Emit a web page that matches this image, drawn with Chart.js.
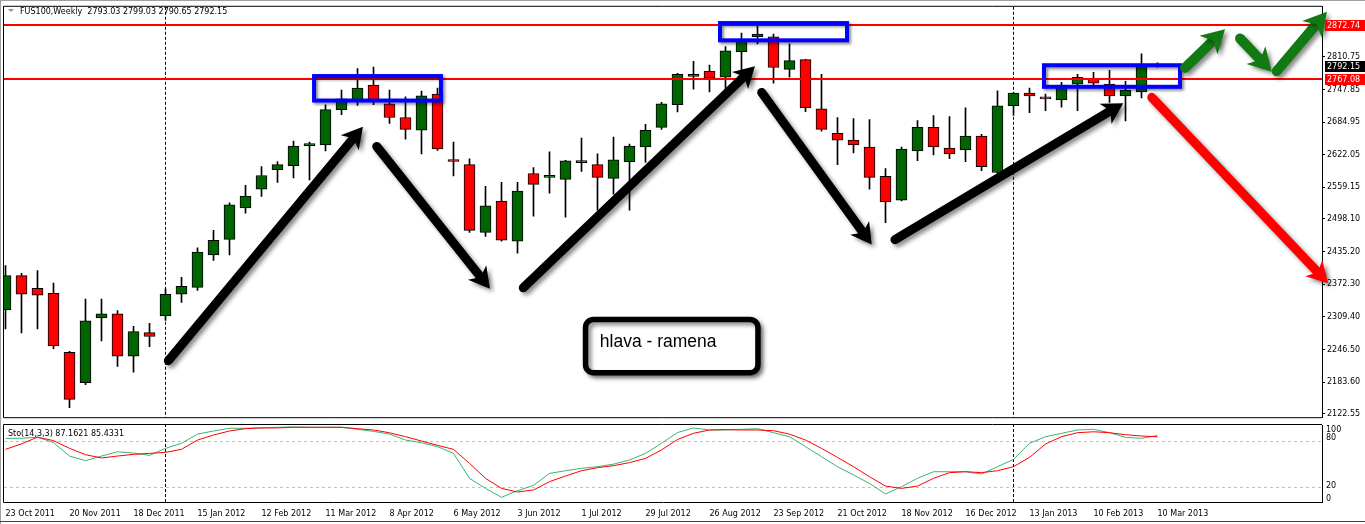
<!DOCTYPE html>
<html>
<head>
<meta charset="utf-8">
<script src="https://cdn.jsdelivr.net/npm/chart.js@4.4.1/dist/chart.umd.min.js"></script>
<style>
  html, body { margin: 0; padding: 0; background: #fff; }
  #wrap { position: relative; width: 1365px; height: 524px; overflow: hidden; background: #fff; }
  #main { position: absolute; left: 0; top: 0; }
  #sto { position: absolute; left: 0; top: 424px; }
  .edge { position: absolute; background: #a0a0a0; }
</style>
</head>
<body>
<div id="wrap">
  <canvas id="main" width="1365" height="424"></canvas>
  <canvas id="sto" width="1365" height="100"></canvas>
  <div class="edge" style="left:0;top:0;width:1365px;height:1px"></div>
  <div class="edge" style="left:0;top:0;width:1px;height:524px"></div>
  <div class="edge" style="left:0;top:521px;width:1365px;height:1px;background:#404040"></div>
</div>
<script>
// ============================================================
// FUS100 weekly candles + Stochastic(14,3,3), MT4 style
// ============================================================

const SYMBOL_TITLE = 'FUS100,Weekly  2793.03 2799.03 2790.65 2792.15';
const STO_TITLE = 'Sto(14,3,3) 87.1621 85.4331';

// one label every 4 weekly bars, bar 0 = 23 Oct 2011
const dateTicks = ['23 Oct 2011', '20 Nov 2011', '18 Dec 2011', '15 Jan 2012', '12 Feb 2012',
  '11 Mar 2012', '8 Apr 2012', '6 May 2012', '3 Jun 2012', '1 Jul 2012', '29 Jul 2012',
  '26 Aug 2012', '23 Sep 2012', '21 Oct 2012', '18 Nov 2012', '16 Dec 2012', '13 Jan 2013',
  '10 Feb 2013', '10 Mar 2013'];

const priceTicks = [2810.75, 2747.85, 2684.95, 2622.05, 2559.15, 2498.10, 2435.20,
  2372.30, 2309.40, 2246.50, 2183.60, 2122.55];

const stoLevels = [100, 80, 20, 0];

const opens = [2322.6, 2388.9, 2364.3, 2354.8, 2241.2, 2182.6, 2307.5, 2315.1, 2233.7, 2279.1,
  2311.3, 2352.9, 2366.2, 2428.6, 2458.9, 2519.5, 2555.5, 2593.3, 2600.9, 2639.6,
  2640.7, 2708.8, 2727.7, 2756.1, 2720.2, 2693.7, 2669.1, 2739.1, 2609.6, 2602.8,
  2472.2, 2532.8, 2455.1, 2585.8, 2578.2, 2574.4, 2610.4, 2602.8, 2576.3, 2608.5,
  2636.9, 2674.7, 2718.3, 2773.2, 2782.6, 2771.3, 2820.5, 2849.5, 2849.5, 2786.4,
  2805.3, 2710.7, 2663.4, 2650.1, 2636.9, 2580.1, 2534.6, 2629.3, 2674.7, 2635.0,
  2631.2, 2657.7, 2587.7, 2716.4, 2741.0, 2733.4, 2727.7, 2758.0, 2769.4, 2758.0,
  2735.3, 2742.9, 2793.03];
const highs = [2408.4, 2393.2, 2398.4, 2374.3, 2243.1, 2343.5, 2343.5, 2321.3, 2291.0, 2296.7,
  2363.5, 2385.7, 2442.5, 2476.0, 2529.0, 2563.0, 2599.0, 2609.0, 2648.2, 2646.3,
  2718.3, 2746.7, 2788.3, 2790.8, 2746.7, 2733.4, 2744.8, 2750.5, 2646.3, 2614.2,
  2561.2, 2568.7, 2568.7, 2597.1, 2627.4, 2611.0, 2653.9, 2623.6, 2655.8, 2642.6,
  2680.4, 2723.2, 2778.8, 2802.1, 2794.6, 2830.5, 2856.5, 2871.6, 2854.6, 2835.6,
  2806.0, 2777.0, 2693.7, 2691.8, 2689.9, 2595.2, 2636.9, 2688.0, 2697.4, 2695.6,
  2712.6, 2661.5, 2745.3, 2742.0, 2750.5, 2739.1, 2761.8, 2777.0, 2780.7, 2784.5,
  2763.7, 2816.7, 2799.03];
const lows = [2285.9, 2278.3, 2285.9, 2248.1, 2134.5, 2178.8, 2263.2, 2214.0, 2202.6, 2251.8,
  2302.4, 2337.0, 2360.5, 2418.4, 2428.6, 2509.3, 2541.5, 2568.7, 2577.4, 2573.6,
  2629.3, 2699.3, 2716.9, 2718.3, 2682.3, 2652.0, 2623.6, 2630.4, 2581.2, 2472.2,
  2464.6, 2455.1, 2432.4, 2503.6, 2547.9, 2501.7, 2589.6, 2515.0, 2546.0, 2515.0,
  2607.2, 2670.9, 2704.3, 2748.6, 2742.9, 2748.6, 2773.2, 2835.6, 2759.9, 2771.3,
  2705.0, 2667.2, 2602.8, 2625.5, 2555.5, 2491.1, 2533.0, 2610.4, 2621.7, 2614.2,
  2608.5, 2591.4, 2581.2, 2698.0, 2703.1, 2706.9, 2713.7, 2706.9, 2756.1, 2722.6,
  2687.2, 2731.5, 2790.65];
const closes = [2388.9, 2352.9, 2351.0, 2253.2, 2150.4, 2301.8, 2315.1, 2233.7, 2281.0, 2271.5,
  2352.9, 2368.1, 2434.3, 2457.0, 2525.2, 2542.2, 2582.0, 2602.8, 2638.8, 2640.7,
  2708.8, 2729.6, 2750.5, 2727.7, 2693.7, 2670.9, 2735.3, 2633.1, 2609.0, 2476.0,
  2523.3, 2457.0, 2551.7, 2564.9, 2578.8, 2610.4, 2606.6, 2578.2, 2612.3, 2638.8,
  2669.1, 2720.2, 2777.0, 2777.0, 2769.4, 2822.4, 2843.2, 2854.6, 2790.2, 2803.5,
  2712.6, 2670.9, 2650.1, 2640.7, 2578.2, 2530.9, 2633.1, 2674.7, 2636.9, 2623.6,
  2657.7, 2599.0, 2716.4, 2741.0, 2735.3, 2729.6, 2756.1, 2771.3, 2759.9, 2735.3,
  2746.7, 2793.0, 2792.15];

// %K main line (green) and %D signal (red)
const stochK = [83.5, 83.5, 85, 78, 60.5, 54.5, 60.5, 66, 64.4, 61.4,
  70.5, 77, 89, 93, 96.5, 96.5, 97, 97.8, 98.3, 97.8,
  97.8, 97.8, 95.2, 92.5, 89, 81.3, 77.8, 72.7, 64, 31.6,
  18.6, 7, 15.6, 22.5, 38, 41.5, 44.6, 46.7, 50, 55.4,
  64, 77, 91, 96.9, 94.3, 94.3, 95.2, 96, 90.8, 85.6,
  72.7, 59.7, 46.7, 36, 25, 11.3, 20.8, 31.6, 40.2, 40.2,
  40.2, 37.2, 46.7, 56.2, 77, 85.6, 90, 94.3, 95.2, 90.8,
  84.8, 83.5, 87.16];
const stochD = [69.2, 76.3, 85, 80.5, 70.5, 62.3, 58, 60.5, 62.7, 64,
  65.3, 69.2, 81.3, 87.8, 93, 96, 97, 97, 97.8, 97.8,
  97.8, 97.8, 96, 94.3, 90.7, 85.6, 80, 74.4, 69.2, 51,
  31.6, 18.6, 13.9, 16.5, 27.3, 34.6, 41.5, 45.4, 48, 52,
  57.5, 68.4, 82, 90, 94.3, 94.8, 94.3, 94.3, 93.4, 89,
  81.3, 70.5, 58.8, 46.7, 33.7, 21.6, 18.6, 21.6, 31.6, 39,
  40.2, 39, 41.5, 46.7, 58.8, 76.1, 85.6, 90.8, 92, 90.8,
  88.2, 86.5, 85.43];

const hLevels = [2872.74, 2767.08];
const separators = [10, 63];   // first bar of 2012 and of 2013

// drawn objects, in (bar index, price) units
const blueBoxes = [
  { x1: 19.16, x2: 27.34, top: 2777.5, bottom: 2722.6 },
  { x1: 44.53, x2: 52.72, top: 2879.7, bottom: 2838.7 },
  { x1: 64.78, x2: 73.53, top: 2798.4, bottom: 2749.1 }
];
const arrows = [
  { from: [10.18, 2224.8], to: [22.34, 2675.9], color: '#000000', w: 9 },
  { from: [23.20, 2638.0], to: [30.28, 2363.5], color: '#000000', w: 9 },
  { from: [32.36, 2365.4], to: [46.84, 2792.7], color: '#000000', w: 9 },
  { from: [47.26, 2742.1], to: [54.14, 2448.7], color: '#000000', w: 9 },
  { from: [55.59, 2458.2], to: [69.86, 2721.3], color: '#000000', w: 9 },
  { from: [71.64, 2732.7], to: [82.66, 2374.3], color: '#ff0000', w: 9 },
  { from: [73.72, 2789.4], to: [76.22, 2864.0], color: '#127a12', w: 10 },
  { from: [77.16, 2846.2], to: [79.14, 2781.9], color: '#127a12', w: 10 },
  { from: [79.45, 2783.2], to: [82.59, 2897.7], color: '#127a12', w: 10 }
];
const noteBox = { x1: 36.08, x2: 47.2, top: 2309.7, bottom: 2196.3, text: 'hlava - ramena' };

// bar i sits at 5.5 + 16*i px; plot spans 4..1322 px
const X_MIN = -0.09375;
const X_MAX = 82.28125;

const FONT = "'DejaVu Sans', sans-serif";
const SMALL = '8px ' + FONT;

function drawArrow(ctx, x1, y1, x2, y2, color, w) {
  const ang = Math.atan2(y2 - y1, x2 - x1);
  const headLen = w * 2.3, headW = w * 1.3;
  const bx = x2 - Math.cos(ang) * headLen * 0.7;
  const by = y2 - Math.sin(ang) * headLen * 0.7;
  ctx.save();
  ctx.shadowColor = 'rgba(0,0,0,0.45)';
  ctx.shadowBlur = 4;
  ctx.shadowOffsetX = 3;
  ctx.shadowOffsetY = 3;
  ctx.strokeStyle = color;
  ctx.fillStyle = color;
  ctx.lineWidth = w;
  ctx.lineCap = 'round';
  ctx.beginPath();
  ctx.moveTo(x1, y1);
  ctx.lineTo(bx, by);
  ctx.stroke();
  ctx.translate(x2, y2);
  ctx.rotate(ang);
  ctx.beginPath();
  ctx.moveTo(0, 0);
  ctx.lineTo(-headLen, -headW);
  ctx.lineTo(-headLen * 0.72, 0);
  ctx.lineTo(-headLen, headW);
  ctx.closePath();
  ctx.fill();
  ctx.restore();
}

const mainDecor = {
  id: 'mainDecor',
  beforeDatasetsDraw(chart) {
    const { ctx, chartArea: a, scales: { x } } = chart;
    ctx.save();
    ctx.strokeStyle = '#000';
    ctx.lineWidth = 1;
    ctx.setLineDash([3, 2]);
    separators.forEach(i => {
      const px = x.getPixelForValue(i);
      ctx.beginPath();
      ctx.moveTo(px, a.top);
      ctx.lineTo(px, a.bottom);
      ctx.stroke();
    });
    ctx.restore();
  },
  afterDatasetsDraw(chart) {
    const { ctx, chartArea: a, scales: { x, y } } = chart;
    ctx.save();
    // horizontal levels
    ctx.strokeStyle = '#ff0000';
    ctx.lineWidth = 2;
    hLevels.forEach(v => {
      const py = Math.round(y.getPixelForValue(v));
      ctx.beginPath();
      ctx.moveTo(a.left, py);
      ctx.lineTo(a.right, py);
      ctx.stroke();
    });
    // blue rectangles
    ctx.save();
    ctx.shadowColor = 'rgba(0,0,0,0.45)';
    ctx.shadowBlur = 3;
    ctx.shadowOffsetX = 2;
    ctx.shadowOffsetY = 2;
    ctx.strokeStyle = '#0000ff';
    ctx.lineWidth = 4;
    blueBoxes.forEach(b => {
      const l = x.getPixelForValue(b.x1), r = x.getPixelForValue(b.x2);
      const t = y.getPixelForValue(b.top), bt = y.getPixelForValue(b.bottom);
      ctx.strokeRect(l + 2, t + 2, r - l - 4, bt - t - 4);
    });
    ctx.restore();
    // arrows
    arrows.forEach(ar => {
      drawArrow(ctx, x.getPixelForValue(ar.from[0]), y.getPixelForValue(ar.from[1]),
        x.getPixelForValue(ar.to[0]), y.getPixelForValue(ar.to[1]), ar.color, ar.w);
    });
    // text box
    const l = x.getPixelForValue(noteBox.x1), r = x.getPixelForValue(noteBox.x2);
    const t = y.getPixelForValue(noteBox.top), bt = y.getPixelForValue(noteBox.bottom);
    ctx.save();
    ctx.shadowColor = 'rgba(0,0,0,0.45)';
    ctx.shadowBlur = 4;
    ctx.shadowOffsetX = 3;
    ctx.shadowOffsetY = 3;
    ctx.fillStyle = '#fff';
    ctx.strokeStyle = '#000';
    ctx.lineWidth = 5.5;
    ctx.beginPath();
    ctx.roundRect(l + 2.75, t + 2.75, r - l - 5.5, bt - t - 5.5, 8);
    ctx.fill();
    ctx.stroke();
    ctx.restore();
    ctx.fillStyle = '#000';
    ctx.font = "17.5px 'Liberation Sans', Arial, sans-serif";
    ctx.textBaseline = 'middle';
    ctx.textAlign = 'left';
    ctx.fillText(noteBox.text, l + 17, t + 25);
    ctx.restore();
  },
  afterDraw(chart) {
    const { ctx, chartArea: a, scales: { y } } = chart;
    ctx.save();
    // pane frame
    ctx.strokeStyle = '#000';
    ctx.lineWidth = 1;
    ctx.beginPath();
    ctx.moveTo(a.left - 0.5, a.bottom + 0.5);
    ctx.lineTo(a.left - 0.5, a.top - 0.5);
    ctx.lineTo(a.right, a.top - 0.5);
    ctx.moveTo(a.left - 0.5, a.bottom + 0.5);
    ctx.lineTo(a.right, a.bottom + 0.5);
    ctx.stroke();
    // title
    ctx.fillStyle = '#7a96b8';
    ctx.beginPath();
    ctx.moveTo(8, 9);
    ctx.lineTo(14, 9);
    ctx.lineTo(11, 12);
    ctx.closePath();
    ctx.fill();
    ctx.fillStyle = '#000';
    ctx.font = SMALL;
    ctx.textBaseline = 'middle';
    ctx.fillText(SYMBOL_TITLE, 20, 12);
    // price tags on the axis
    const tags = [
      { v: hLevels[0], bg: '#ff0000' },
      { v: closes[closes.length - 1], bg: '#000000' },
      { v: hLevels[1], bg: '#ff0000' }
    ];
    tags.forEach(tg => {
      const py = Math.round(y.getPixelForValue(tg.v));
      ctx.fillStyle = tg.bg;
      ctx.fillRect(a.right + 3, py - 5, 43, 11);
      ctx.fillStyle = '#fff';
      ctx.fillText(tg.v.toFixed(2), a.right + 5, py + 0.5);
    });
    ctx.restore();
  }
};

const stoDecor = {
  id: 'stoDecor',
  beforeDatasetsDraw(chart) {
    const { ctx, chartArea: a, scales: { x, y } } = chart;
    ctx.save();
    ctx.lineWidth = 1;
    ctx.strokeStyle = '#c0c0c0';
    ctx.setLineDash([3, 3]);
    [80, 20].forEach(v => {
      const py = Math.round(y.getPixelForValue(v)) + 0.5;
      ctx.beginPath();
      ctx.moveTo(a.left, py);
      ctx.lineTo(a.right, py);
      ctx.stroke();
    });
    ctx.strokeStyle = '#000';
    ctx.setLineDash([3, 2]);
    separators.forEach(i => {
      const px = x.getPixelForValue(i);
      ctx.beginPath();
      ctx.moveTo(px, 0);
      ctx.lineTo(px, a.bottom);
      ctx.stroke();
    });
    ctx.restore();
  },
  afterDraw(chart) {
    const { ctx, chartArea: a, scales: { y } } = chart;
    ctx.save();
    ctx.strokeStyle = '#000';
    ctx.lineWidth = 1;
    ctx.beginPath();
    ctx.moveTo(a.left - 0.5, a.bottom);
    ctx.lineTo(a.left - 0.5, 0.5);
    ctx.lineTo(a.right, 0.5);
    ctx.stroke();
    ctx.fillStyle = '#000';
    ctx.font = SMALL;
    ctx.textAlign = 'left';
    ctx.textBaseline = 'middle';
    ctx.fillText(STO_TITLE, 8, 9.5);
    const base = { 100: 'top', 80: 'bottom', 20: 'middle', 0: 'bottom' };
    const shift = { 100: 0, 80: 1, 20: -1, 0: 0 };
    stoLevels.forEach(v => {
      ctx.textBaseline = base[v];
      ctx.fillText(String(v), a.right + 4, y.getPixelForValue(v) + shift[v]);
    });
    ctx.restore();
  }
};

const idx = opens.map((_, i) => i);

new Chart(document.getElementById('main'), {
  type: 'bar',
  data: {
    datasets: [
      {
        label: 'body',
        order: 0,
        grouped: false,
        data: idx.map(i => ({ x: i, y: [opens[i], closes[i]] })),
        backgroundColor: idx.map(i => closes[i] >= opens[i] ? '#006400' : '#ff0000'),
        borderColor: '#000',
        borderWidth: 1,
        borderSkipped: false,
        barThickness: 11,
        minBarLength: 2
      },
      {
        label: 'wick',
        order: 1,
        grouped: false,
        data: idx.map(i => ({ x: i, y: [lows[i], highs[i]] })),
        backgroundColor: '#000',
        borderWidth: 0,
        barThickness: 1
      }
    ]
  },
  options: {
    responsive: false,
    animation: false,
    events: [],
    layout: { padding: { left: 4, top: 4, right: 0, bottom: 1.5 } },
    plugins: { legend: { display: false }, tooltip: { enabled: false } },
    scales: {
      x: { type: 'linear', display: false, offset: false, grid: { offset: false }, min: X_MIN, max: X_MAX },
      y: {
        type: 'linear',
        position: 'right',
        min: 2115.9,
        max: 2907.2,
        afterBuildTicks: s => { s.ticks = priceTicks.map(v => ({ value: v })); },
        afterFit: s => { s.width = 43; },
        grid: { drawOnChartArea: false, tickLength: 3, tickColor: '#000' },
        border: { display: true, color: '#000' },
        ticks: {
          autoSkip: false,
          padding: 2,
          color: '#000',
          font: { family: FONT, size: 8 },
          callback: v => v.toFixed(2)
        }
      }
    }
  },
  plugins: [mainDecor]
});

new Chart(document.getElementById('sto'), {
  type: 'line',
  data: {
    datasets: [
      {
        label: '%D',
        data: idx.map(i => ({ x: i, y: stochD[i] })),
        borderColor: '#ff0000',
        borderWidth: 1,
        pointRadius: 0,
        tension: 0,
        fill: false
      },
      {
        label: '%K',
        data: idx.map(i => ({ x: i, y: stochK[i] })),
        borderColor: '#3cb371',
        borderWidth: 1,
        pointRadius: 0,
        tension: 0,
        fill: false
      }
    ]
  },
  options: {
    responsive: false,
    animation: false,
    events: [],
    layout: { padding: { left: 4, top: 1.6, right: 0, bottom: 0 } },
    plugins: { legend: { display: false }, tooltip: { enabled: false } },
    scales: {
      x: {
        type: 'linear',
        min: X_MIN,
        max: X_MAX,
        afterBuildTicks: s => { s.ticks = dateTicks.map((_, k) => ({ value: k * 4 })); },
        afterFit: s => { s.height = 21.3; },
        grid: { display: false },
        border: { display: true, color: '#000' },
        ticks: {
          autoSkip: false,
          maxRotation: 0,
          align: 'start',
          padding: -2,
          color: '#000',
          font: { family: FONT, size: 8 },
          callback: v => dateTicks[v / 4]
        }
      },
      y: {
        type: 'linear',
        position: 'right',
        min: 0,
        max: 100,
        afterFit: s => { s.width = 43; },
        grid: { display: false },
        border: { display: true, color: '#000' },
        ticks: { display: false }
      }
    }
  },
  plugins: [stoDecor]
});
</script>
</body>
</html>
